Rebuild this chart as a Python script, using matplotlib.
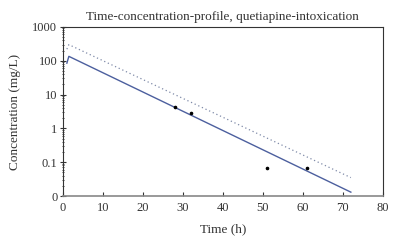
import matplotlib
matplotlib.use("Agg")
import matplotlib.pyplot as plt
from matplotlib.ticker import LogLocator, NullFormatter

# Data
model_time = [1.0, 1.5, 72.0]
model_conc = [85, 135, 0.013]
upper_time = [1.0, 1.5, 72.0]
upper_conc = [220, 300, 0.035]
obs_time = [28, 32, 51, 61]
obs_conc = [4.2, 2.8, 0.068, 0.066]

yticks = [0.01, 0.1, 1, 10, 100, 1000]
ytick_labels = ["0", "0.1", "1", "10", "100", "1000"]
xticks = [0, 10, 20, 30, 40, 50, 60, 70, 80]

plt.rcParams['font.family'] = ['Liberation Serif', 'DejaVu Serif']

fig = plt.figure(figsize=(4.03, 2.45), dpi=100)
ax = fig.add_axes([0.156, 0.200, 0.794, 0.690])

ax.plot(upper_time, upper_conc, linestyle=(0, (1, 2.2)), color="#7f8aa8", lw=0.9)
ax.plot(model_time, model_conc, color="#4c5f9e", lw=1.0)
ax.plot(obs_time, obs_conc, 'o', color="black", ms=1.6)

ax.set_yscale('log')
ax.set_ylim(0.01, 1000)
ax.set_xlim(0, 80)
ax.set_yticks(yticks)
ax.set_yticklabels(ytick_labels)
ax.yaxis.set_minor_locator(LogLocator(base=10, subs=range(2, 10)))
ax.yaxis.set_minor_formatter(NullFormatter())
ax.set_xticks(xticks)

ax.tick_params(axis='x', direction='in', length=3, width=0.8, labelsize=9, pad=4, colors='#333333')
ax.tick_params(axis='y', which='major', direction='inout', length=4, width=0.8, labelsize=9, pad=2, colors='#333333')
ax.tick_params(axis='y', which='minor', direction='inout', length=2, width=0.5)

for s in ax.spines.values():
    s.set_color('#333333')
    s.set_linewidth(0.8)
ax.spines['bottom'].set_color('#888888')
ax.spines['bottom'].set_linewidth(1.2)

ax.set_title("Time-concentration-profile, quetiapine-intoxication", fontsize=9.5, pad=5, color='#333333')
ax.set_xlabel("Time (h)", fontsize=9.5, color='#333333', labelpad=7)
ax.set_ylabel("Concentration (mg/L)", fontsize=9.5, color='#333333', labelpad=8)

fig.savefig("out.png", dpi=100)
